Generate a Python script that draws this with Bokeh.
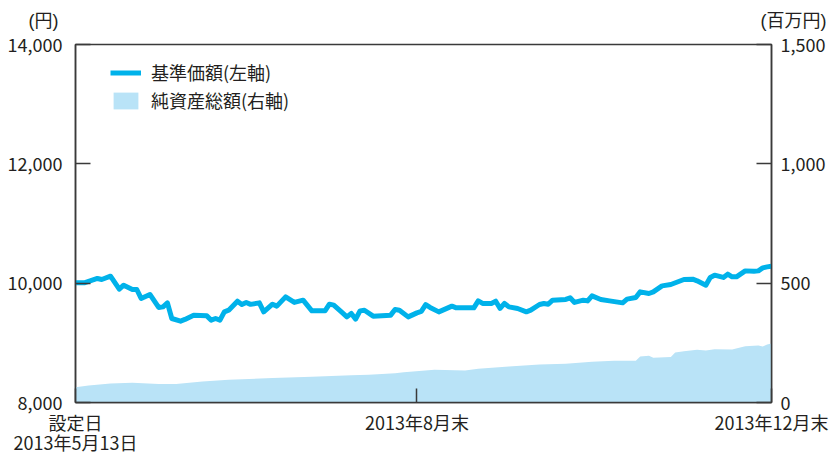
from bokeh.plotting import figure
from bokeh.models import (Range1d, LinearAxis, FixedTicker, NumeralTickFormatter,
                          Legend, LegendItem, Label)
from bokeh.embed import file_html
from bokeh.resources import INLINE

# business-day index since launch (0 = 2013-05-13, 159 = 2013-12-30)
nav_x = [0, 2, 5, 6, 8, 10, 11, 13, 14, 15, 17, 19, 20, 21, 22, 24, 25, 27, 30, 31,
         32, 33, 34, 35, 37, 38, 39, 40, 42, 43, 45, 46, 48, 50, 52, 54, 57, 58, 59, 61,
         62, 63, 64, 65, 66, 68, 72, 73, 74, 76, 78, 79, 80, 81, 83, 86, 87, 91, 92, 93,
         95, 96, 97, 98, 99, 101, 103, 104, 106, 107, 108, 109, 112, 113, 114, 116, 117, 118, 120, 122,
         125, 126, 128, 129, 131, 132, 134, 136, 139, 141, 142, 144, 145, 146, 148, 149, 150, 151, 153, 155,
         156, 157, 158, 159]
nav = [10005, 10005, 10079, 10062, 10117, 9899, 9966, 9894, 9894, 9744, 9811, 9593, 9603, 9670, 9408, 9363, 9392, 9464, 9452, 9380,
       9408, 9380, 9519, 9547, 9698, 9643, 9677, 9645, 9670, 9519, 9648, 9615, 9770, 9677, 9715, 9536, 9536, 9648, 9631, 9502,
       9435, 9492, 9397, 9536, 9547, 9447, 9464, 9559, 9547, 9435, 9502, 9527, 9640, 9593, 9519, 9615, 9586, 9586, 9703, 9660,
       9660, 9698, 9576, 9660, 9603, 9576, 9519, 9547, 9643, 9660, 9648, 9715, 9727, 9754, 9677, 9715, 9703, 9787, 9727, 9703,
       9670, 9732, 9760, 9854, 9827, 9854, 9955, 9978, 10062, 10067, 10039, 9966, 10096, 10134, 10096, 10151, 10106, 10106, 10206, 10201,
       10206, 10256, 10273, 10285]

assets_x = [0, 3, 8, 13, 19, 23, 29, 35, 45, 54, 63, 67, 73, 75, 82, 89, 92, 99, 106, 112,
            118, 123, 128, 129, 131, 132, 136, 137, 139, 142, 144, 146, 150, 153, 156, 157, 158, 159]
assets = [64, 71, 80, 83, 77, 78, 88, 95, 103, 108, 114, 116, 123, 127, 137, 134, 141, 151, 159, 162,
          171, 175, 175, 193, 196, 187, 191, 210, 215, 221, 218, 223, 222, 236, 239, 235, 243, 247]

left_ticks = [8000, 10000, 12000, 14000]
right_ticks = [0, 500, 1000, 1500]
x_ticks = [0, 78, 159]
x_tick_labels = ["設定日\n2013年5月13日", "2013年8月末", "2013年12月末"]

legend_labels = ["基準価額(左軸)", "純資産総額(右軸)"]
left_unit = "(円)"
right_unit = "(百万円)"

FONT = "Noto Sans CJK JP"
UNIT_FONT = "Liberation Sans, Noto Sans CJK JP"
TXT = "#231f20"
LINE_C = "#00b2ea"
AREA_C = "#b9e3f7"
AX_C = "#3a3a3a"

p = figure(width=835, height=459, output_backend="svg", toolbar_location=None,
           x_range=Range1d(0, 159), y_range=Range1d(8000, 14000),
           min_border_left=75, min_border_right=64, min_border_top=44, min_border_bottom=57)
p.extra_y_ranges = {"right": Range1d(0, 1500)}
p.xgrid.visible = False
p.ygrid.visible = False
p.outline_line_color = AX_C
p.outline_line_width = 1.5
p.background_fill_color = "white"
p.border_fill_color = "white"

area = p.varea(x=assets_x, y1=0, y2=assets, fill_color=AREA_C, y_range_name="right")
line = p.line(x=nav_x, y=nav, line_color=LINE_C, line_width=5, line_join="round")

yr = LinearAxis(y_range_name="right")
p.add_layout(yr, "right")

for ax in [p.xaxis[0], p.yaxis[0], yr]:
    ax.axis_line_color = AX_C
    ax.axis_line_width = 1.5
    ax.major_tick_line_color = AX_C
    ax.major_tick_line_width = 1.5
    ax.major_tick_in = 15
    ax.major_tick_out = 0
    ax.minor_tick_in = 0
    ax.minor_tick_out = 0
    ax.major_label_text_font = FONT
    ax.major_label_text_font_size = "18px"
    ax.major_label_text_color = TXT

p.yaxis[0].ticker = FixedTicker(ticks=left_ticks)
p.yaxis[0].formatter = NumeralTickFormatter(format="0,0")
p.yaxis[0].major_label_standoff = 13
yr.ticker = FixedTicker(ticks=right_ticks)
yr.formatter = NumeralTickFormatter(format="0,0")
yr.major_label_standoff = 9

xa = p.xaxis[0]
xa.ticker = FixedTicker(ticks=x_ticks)
xa.major_label_overrides = {t: s for t, s in zip(x_ticks, x_tick_labels)}
xa.major_label_standoff = 6
xa.major_label_text_line_height = 0.77
xa.major_tick_in = 14

legend = Legend(items=[LegendItem(label=legend_labels[0], renderers=[line]),
                       LegendItem(label=legend_labels[1], renderers=[area])],
                location=(35, 289), padding=0, margin=0, border_line_color=None,
                background_fill_alpha=0, glyph_width=31, glyph_height=21, spacing=2,
                label_standoff=10, label_height=21, label_text_font=FONT,
                label_text_font_size="18px", label_text_color=TXT)
p.add_layout(legend)

def unit(x, y, s):
    p.add_layout(Label(x=x, y=y, x_units="screen", y_units="screen", text=s,
                       text_align="center", text_baseline="middle", text_font=UNIT_FONT,
                       text_font_size="18px", text_color=TXT), "above")

unit(-32, 24, left_unit)   # first above panel (next to the frame)
unit(718, 4, right_unit)   # second above panel (outer)

open("out.html", "w").write(file_html(p, INLINE))
